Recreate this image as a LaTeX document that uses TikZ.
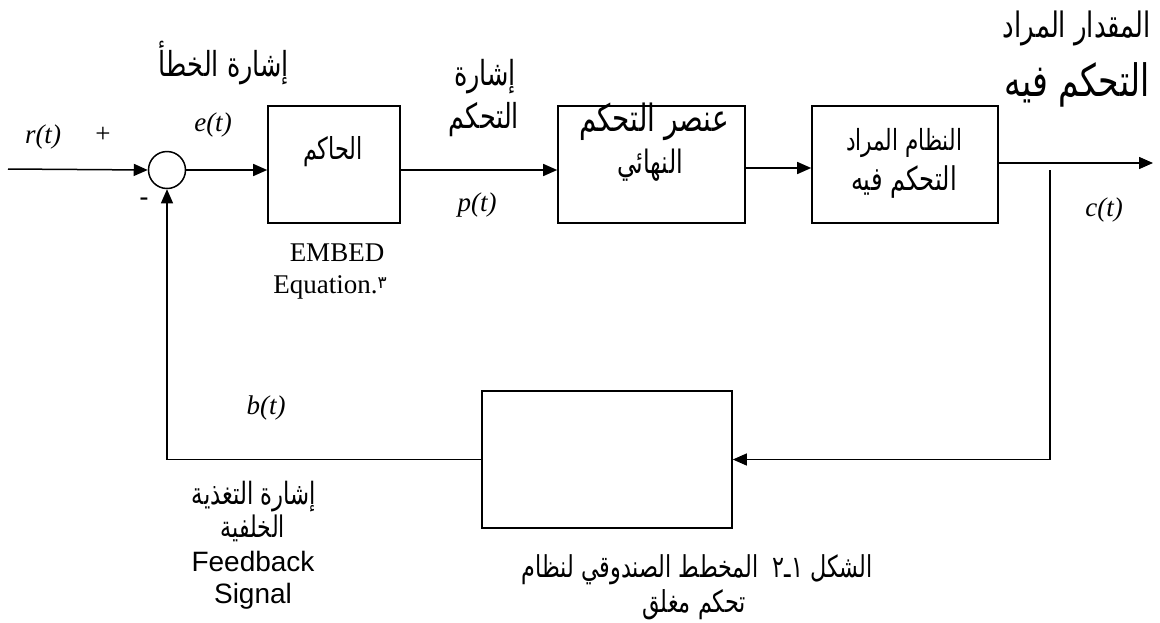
\documentclass[tikz,border=0pt]{standalone}
\usepackage{fontspec}
\usepackage{graphicx}
\usetikzlibrary{arrows.meta}
\setmainfont{Liberation Serif}
\newfontfamily\arabicfont[Script=Arabic]{DejaVu Sans}
\newfontfamily\arialfont{Liberation Sans}
\TeXXeTstate=1
\newcommand{\AR}[2]{\scalebox{1}[1.35]{\resizebox{#1pt}{!}{\arabicfont #2}}}
\begin{document}
\begin{tikzpicture}[x=1pt,y=-1pt,
  blk/.style={draw, line width=1.6pt, inner sep=0pt, anchor=center},
  lbl/.style={inner sep=0pt, anchor=center},
  lat/.style={lbl, text height=19pt, text depth=6pt},
  math/.style={lat, font=\fontsize{27}{32}\selectfont\itshape},
  serif/.style={lat, font=\fontsize{27}{32}\selectfont},
  sans/.style={lat, font=\arialfont\fontsize{28}{32}\selectfont},
  arr/.style={line width=1.5pt, -{Triangle[length=14pt,width=12pt]}},
  fbarr/.style={line width=1.2pt, -{Triangle[length=14pt,width=12pt]}}]
\useasboundingbox (0,0) rectangle (1160,622);
\fill[white] (0,0) rectangle (1160,622);

% blocks
\node[draw, circle, line width=1.5pt, minimum size=37pt, inner sep=0pt] (sum) at (167,170) {};
\node[blk, minimum width=132pt, minimum height=117pt] (ctrl) at (334,164.5) {};
\node[blk, minimum width=187pt, minimum height=117pt] (fce) at (651.5,164.5) {};
\node[blk, minimum width=186pt, minimum height=117pt] (plant) at (905,164.5) {};
\node[blk, minimum width=250pt, minimum height=137pt] (fb) at (607,459.5) {};

% free ends
\coordinate (in) at (8,169);
\coordinate (out) at (1153,163);
\coordinate (tap) at (1050,170);

% connectors
\draw[arr] (in) -- (sum.west);
\draw[arr] (sum.east) -- (sum.east -| ctrl.west);
\draw[arr] (sum.east -| ctrl.east) -- (sum.east -| fce.west);
\draw[arr] ([yshift=-3.5pt]fce.east) -- ([yshift=-3.5pt]plant.west);
\draw[arr] (plant.east |- out) -- (out);
\draw[fbarr] (tap) |- (fb.east);
\draw[fbarr] (fb.west) -| (sum.south);

% labels
\node[lbl] (ttl) at (224,63) {\AR{130}{\beginR إشارة الخطأ\endR}};
\node[math] (rt) at (43,137) {r(t)};
\node[serif] (plus) at (103,136) {+};
\node[math] (et) at (213,125) {e(t)};
\node[sans] (minus) at (144,200) {-};
\node[lbl] (ctrlt) at (333,152) {\AR{60}{\beginR الحاكم\endR}};
\node[lbl] (ps1) at (485,77) {\AR{62}{\beginR إشارة\endR}};
\node[lbl] (ps2) at (484,120) {\AR{70}{\beginR التحكم\endR}};
\node[math] (pt) at (477,205) {p(t)};
\node[lbl] (fcet1) at (654,122) {\AR{150}{\beginR عنصر التحكم\endR}};
\node[lbl] (fcet2) at (650,165) {\AR{66}{\beginR النهائي\endR}};
\node[lbl] (plt1) at (904,143) {\AR{116}{\beginR النظام المراد\endR}};
\node[lbl] (plt2) at (904,182) {\AR{106}{\beginR التحكم فيه\endR}};
\node[lbl] (q1) at (1077,28) {\AR{148}{\beginR المقدار المراد\endR}};
\node[lbl] (q2) at (1077,85) {\AR{145}{\beginR التحكم فيه\endR}};
\node[math] (ct) at (1104,210) {c(t)};
\node[serif] (emb1) at (337,255) {EMBED};
\node[serif] (emb2) at (330,287) {Equation.{\arabicfont\fontsize{17}{17}\selectfont\raisebox{5pt}{٣}}};
\node[math] (bt) at (266,408) {b(t)};
\node[lbl] (fs1) at (254,497) {\AR{124}{\beginR إشارة التغذية\endR}};
\node[lbl] (fs2) at (253,528) {\AR{64}{\beginR الخلفية\endR}};
\node[sans] (fs3) at (253,565) {Feedback};
\node[sans] (fs4) at (253,597) {Signal};
\node[lbl] (cap1) at (697,570) {\AR{351}{\beginR الشكل \hbox{١}\hbox{ـ}\hbox{٢}\ \ المخطط الصندوقي لنظام\endR}};
\node[lbl] (cap2) at (694,605) {\AR{104}{\beginR تحكم مغلق\endR}};
\end{tikzpicture}
\end{document}
